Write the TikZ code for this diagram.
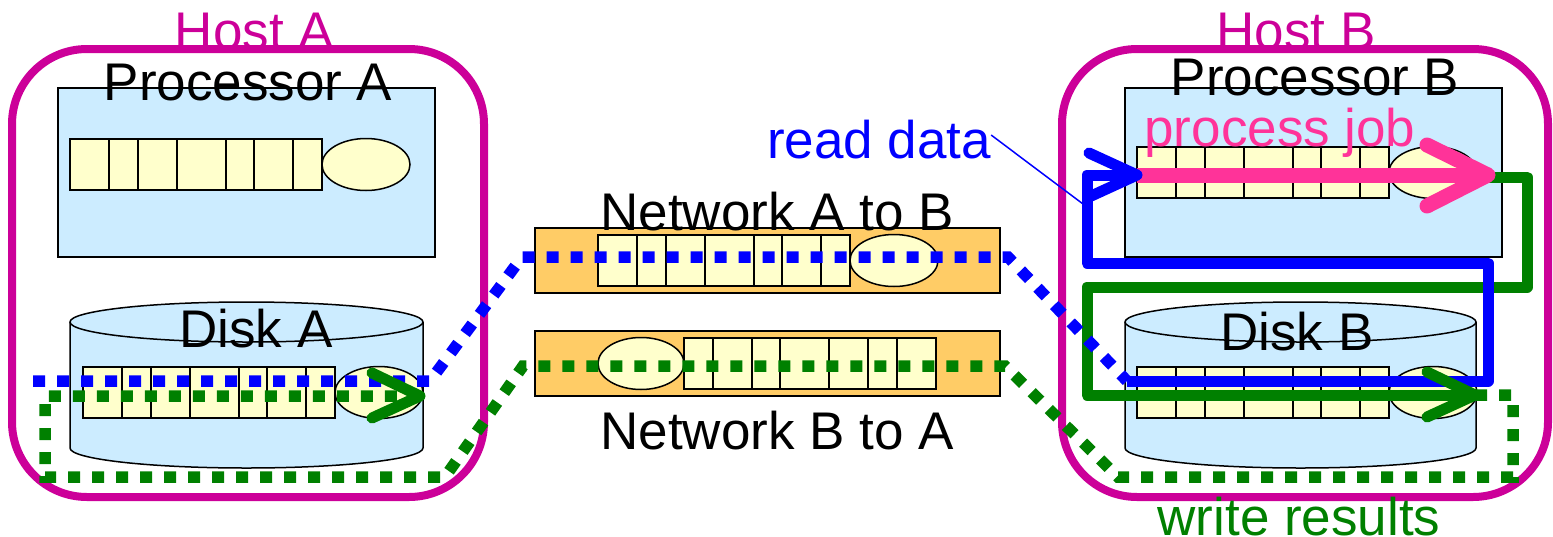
\documentclass[tikz,border=0pt]{standalone}
\usepackage{fontspec}
\setmainfont{Liberation Sans}
\definecolor{hostmag}{HTML}{CC0099}
\definecolor{boxblue}{HTML}{CCECFF}
\definecolor{qyellow}{HTML}{FFFFCC}
\definecolor{netorange}{HTML}{FFCC66}
\definecolor{jobpink}{HTML}{FF3399}
\definecolor{rdblue}{HTML}{0000FF}
\definecolor{wrgreen}{HTML}{008000}

\tikzset{
  lbl/.style={anchor=base, inner sep=0pt},
  hostbox/.style={draw=hostmag, line width=8pt, rounded corners=75pt},
  procbox/.style={draw=black, fill=boxblue, line width=1.5pt},
  netbox/.style={draw=black, fill=netorange, line width=2pt},
  cellbox/.style={draw=black, fill=qyellow, line width=1.5pt},
  dotline/.style={line width=11.5pt, dash pattern=on 12pt off 12pt},
  solidline/.style={line width=11pt, line join=round},
  chevron/.style={line width=11pt, line cap=round, line join=round},
  % job queue: cells on the left, server on the right
  pics/jobq/.style={code={
    \filldraw[cellbox] (0,0) rectangle (252,51);
    \foreach \c in {39,68,107,156,184,223} \draw[line width=1.5pt] (\c,0) -- (\c,51);
    \filldraw[cellbox] (296,25.5) ellipse [x radius=44, y radius=26];
  }},
  % job queue flowing the other way: server on the left
  pics/jobqrev/.style={code={
    \filldraw[cellbox] (43,25.5) ellipse [x radius=43, y radius=26];
    \filldraw[cellbox] (86,0) rectangle (338,51);
    \foreach \c in {115,154,182,231,270,299} \draw[line width=1.5pt] (\c,0) -- (\c,51);
  }},
}

% disk cylinder between x=#1 and x=#2
\newcommand\diskdrum[2]{%
  \pgfmathsetmacro\drx{(#2-#1)/2}%
  \pgfmathsetmacro\dcx{(#2+#1)/2}%
  \fill[boxblue] (#1,322) -- (#1,448) arc[start angle=180, end angle=0, x radius=\drx, y radius=20]
     -- (#2,322) arc[start angle=0, end angle=-180, x radius=\drx, y radius=20] -- cycle;
  \draw[line width=1.5pt] (#1,322) -- (#1,448) arc[start angle=180, end angle=0, x radius=\drx, y radius=20] -- (#2,322);
  \draw[line width=1.5pt] (\dcx,322) ellipse [x radius=\drx, y radius=20];
}

\begin{document}
\begin{tikzpicture}[x=1pt, y=-1pt, font=\fontsize{53}{63}\selectfont]
\useasboundingbox (0,0) rectangle (1553,536);

% hosts
\draw[hostbox] (12,49) rectangle (484,497);
\draw[hostbox] (1062,49) rectangle (1548,497);

% processors
\filldraw[procbox] (58,88) rectangle (435,257);
\filldraw[procbox] (1125,88) rectangle (1502,257);
\pic at (70,139) {jobq};
\pic at (1137,147) {jobq};

% disks
\diskdrum{70}{423}
\diskdrum{1125}{1476}
\pic at (83,367) {jobq};
\pic at (1137,367) {jobq};

% network links
\filldraw[netbox] (535,228) rectangle (1000,293);
\filldraw[netbox] (535,331) rectangle (1000,396);
\pic at (598,235) {jobq};
\pic at (598,338) {jobqrev};

% component labels
\node[lbl] (procA) at (248,100) {Processor A};
\node[lbl] (procB) at (1315,95) {Processor B};
\node[lbl] (diskA) at (256,347) {Disk A};
\node[lbl] (diskB) at (1297,350) {Disk B};
\node[lbl] (netAB) at (777,230) {Network A to B};
\node[lbl] (netBA) at (777,449) {Network B to A};

% route points
\coordinate (rd0) at (33,381);
\coordinate (rd1) at (430,381);
\coordinate (rd2) at (522,257);
\coordinate (rd3) at (1008,257);
\coordinate (rd4) at (1127,381);
\coordinate (rd5) at (1488,381);
\coordinate (rd6) at (1488,263);
\coordinate (rd7) at (1087,263);
\coordinate (rd8) at (1087,175);
\coordinate (rdtip) at (1137,175);

\coordinate (wr0) at (1488,177);
\coordinate (wr1) at (1527,177);
\coordinate (wr2) at (1527,287);
\coordinate (wr3) at (1087,287);
\coordinate (wr4) at (1087,395);
\coordinate (wrtipB) at (1475,395);
\coordinate (wr5) at (1513,395);
\coordinate (wr6) at (1513,477);
\coordinate (wr7) at (1118,477);
\coordinate (wr8) at (1005,366);
\coordinate (wr9) at (523,366);
\coordinate (wr10) at (445,477);
\coordinate (wr11) at (45,477);
\coordinate (wr12) at (45,396);
\coordinate (wrtipA) at (420,396);

\coordinate (pj0) at (1137,175);
\coordinate (pjtip) at (1488,175);

% write results: solid part on host B
\draw[wrgreen, solidline] (wr0) -- (wr1) -- (wr2) -- (wr3) -- (wr4) -- (wrtipB);
% read data: solid part on host B
\draw[rdblue, solidline] (rd4) -- (rd5) -- (rd6) -- (rd7) -- (rd8) -- (rdtip);

% read data over the network
\draw[rdblue, dotline] (rd0) -- (rd1) -- (rd2) -- (rd3) -- (rd4);
% write results over the network
\draw[wrgreen, dotline] (wrtipB) -- (wr5) -- (wr6) -- (wr7) -- (wr8) -- (wr9) -- (wr10) -- (wr11) -- (wr12) -- (wrtipA);

% process job
\draw[jobpink, line width=15pt] (pj0) -- (pjtip);

% arrow heads
\draw[chevron, rdblue] (rdtip) ++(-48,-22) -- (rdtip) -- ++(-48,22);
\draw[chevron, wrgreen] (wrtipB) ++(-48,-23) -- (wrtipB) -- ++(-48,22);
\draw[chevron, wrgreen] (wrtipA) ++(-48,-23) -- (wrtipA) -- ++(-48,22);
\draw[chevron, jobpink, line width=15pt] (pjtip) ++(-61,-30) -- (pjtip) -- ++(-61,31);

% host and flow labels
\node[lbl, text=hostmag] (hostA) at (254.5,49) {Host A};
\node[lbl, text=hostmag] (hostB) at (1296,49) {Host B};
\node[lbl, text=rdblue] (rdlbl) at (879,158) {read data};
\node[lbl, text=jobpink] (pjlbl) at (1280,146) {process job};
\node[lbl, text=wrgreen] (wrlbl) at (1299,535) {write results};
\coordinate (rdpt) at (1083,204);
\draw[rdblue, line width=1.5pt] (rdlbl.east) ++(0,-4) -- (rdpt);
\end{tikzpicture}
\end{document}
